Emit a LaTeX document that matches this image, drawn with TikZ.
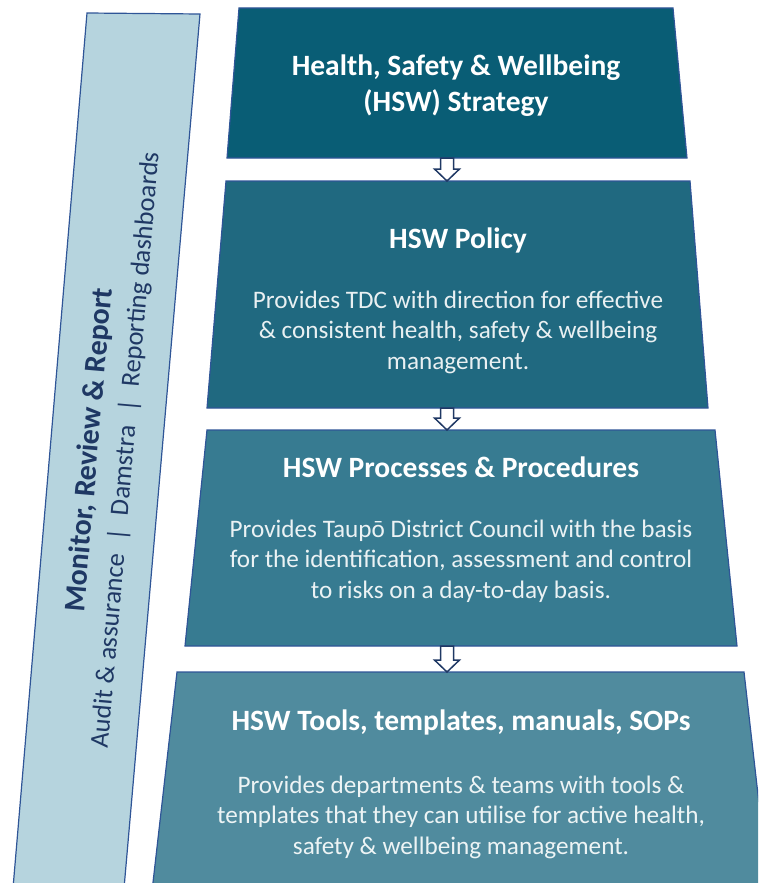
\documentclass[tikz,border=0pt]{standalone}
\usepackage{fontspec}
\setmainfont{Carlito}
\usetikzlibrary{calc}

\definecolor{tierA}{RGB}{9,93,117}
\definecolor{tierB}{RGB}{32,105,128}
\definecolor{tierC}{RGB}{55,123,145}
\definecolor{tierD}{RGB}{80,139,158}
\definecolor{edgeblue}{RGB}{47,85,151}
\definecolor{navy}{RGB}{31,56,100}
\definecolor{sidefill}{RGB}{182,212,222}

% hollow downward block arrow from #1 (top of shaft) to #2 (tip)
\newcommand\hollowdown[2]{%
  \draw[flowarrow] ($(#1)+(-6.5,0)$) -- ($(#2)+(-6.5,-12)$) -- ($(#2)+(-12.5,-12)$)
    -- (#2) -- ($(#2)+(12.5,-12)$) -- ($(#2)+(6.5,-12)$) -- ($(#1)+(6.5,0)$) -- cycle;}

\begin{document}
\begin{tikzpicture}[x=1pt,y=-1pt,
  tier/.style={draw=edgeblue, line width=1.2pt, line join=miter},
  tiertitle/.style={text=white, font=\bfseries\fontsize{29.5}{36}\selectfont, align=center, inner sep=0pt},
  tierbody/.style={text=white!90!tierB, font=\fontsize{25.2}{30.5}\selectfont, align=center, inner sep=0pt},
  flowarrow/.style={draw=navy, fill=white, line width=1.5pt, line join=miter},
  sidetext/.style={text=navy, rotate=85.1, inner sep=0pt}]
\useasboundingbox (0,0) rectangle (758,883);
\clip (0,0) rectangle (758,883);

% side band: monitoring and reporting
\path[tier, fill=sidefill] (87,13) -- (200,14) -- (123,900) -- (12,900) -- cycle;
\node[sidetext, font=\bfseries\fontsize{30}{30}\selectfont] (sideA) at (90,450)
  {Monitor, Review \& Report};
\node[sidetext, font=\fontsize{26.5}{30}\selectfont] (sideB) at (126,450)
  {Audit \& assurance\hspace{13pt}|\hspace{13pt}Damstra\hspace{13pt}|\hspace{13pt}Reporting dashboards};

% tier 1: strategy
\path[tier, fill=tierA] (239,8) -- (673,8) -- (687,158) -- (227,158) -- cycle;
\node[tiertitle] (strategy) at (456,86) {Health, Safety \& Wellbeing\\(HSW) Strategy};

% tier 2: policy
\path[tier, fill=tierB] (226,181) -- (690,181) -- (708,408) -- (207,408) -- cycle;
\node[tiertitle] (policy) at (458,240) {HSW Policy};
\node[tierbody] (policytxt) at (458,332)
  {Provides TDC with direction for effective\\\& consistent health, safety \& wellbeing\\management.};

% tier 3: processes and procedures
\path[tier, fill=tierC] (207,430) -- (715,430) -- (737,646) -- (185,646) -- cycle;
\node[tiertitle] (procs) at (461,467) {HSW Processes \& Procedures};
\node[tierbody, text=white!90!tierC] (procstxt) at (461,561)
  {Provides Taupō District Council with the basis\\for the identification, assessment and control\\to risks on a day-to-day basis.};

% tier 4: tools and templates
\path[tier, fill=tierD] (177,672) -- (744,672) -- (770,900) -- (151,900) -- cycle;
\node[tiertitle] (tools) at (461,722) {HSW Tools, templates, manuals, SOPs};
\node[tierbody, text=white!90!tierD] (toolstxt) at (461,817)
  {Provides departments \& teams with tools \&\\templates that they can utilise for active health,\\safety \& wellbeing management.};

% connectors between tiers
\coordinate (a1s) at (447,158); \coordinate (a1e) at (447,181);
\coordinate (a2s) at (447,408); \coordinate (a2e) at (447,430);
\coordinate (a3s) at (447,646); \coordinate (a3e) at (447,672);
\hollowdown{a1s}{a1e}
\hollowdown{a2s}{a2e}
\hollowdown{a3s}{a3e}
\end{tikzpicture}
\end{document}
